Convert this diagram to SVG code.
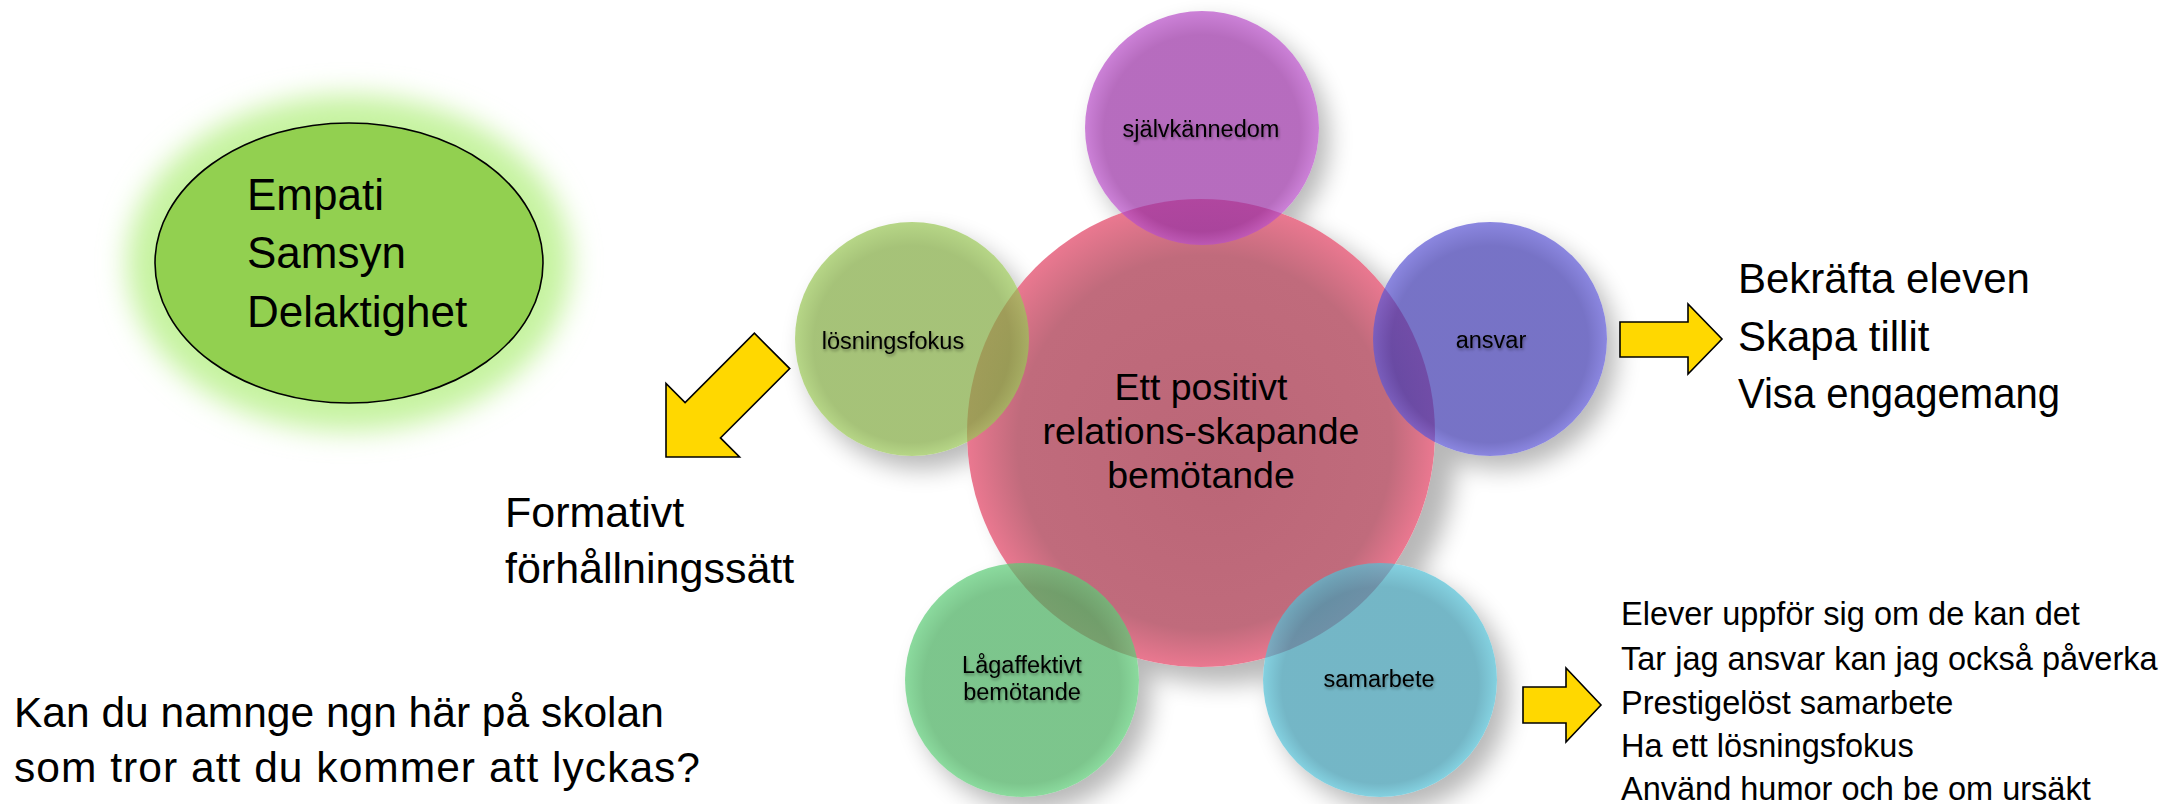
<svg xmlns="http://www.w3.org/2000/svg" width="2166" height="804" viewBox="0 0 2166 804">
<defs>
<style>
text{font-family:"Liberation Sans",Arial,sans-serif;fill:#000}
.big{font-size:44px}
.mid{font-size:42px}
.lst{font-size:32.5px}
.lbl{font-size:23.5px;text-anchor:middle}
.ctr{font-size:37.5px;text-anchor:middle}
.arrow{fill:#ffd800;stroke:#000;stroke-width:1.6;stroke-linejoin:miter}
.sat{opacity:0.72}
</style>
<filter id="glow" x="-30%" y="-30%" width="160%" height="160%"><feGaussianBlur stdDeviation="14"/></filter>
<filter id="shblur" x="-30%" y="-30%" width="160%" height="160%"><feGaussianBlur stdDeviation="12"/></filter>
<filter id="tsh" x="-10%" y="-30%" width="120%" height="170%"><feDropShadow dx="1" dy="2" stdDeviation="1.5" flood-color="#000" flood-opacity="0.35"/></filter>
<mask id="outside" maskUnits="userSpaceOnUse" x="0" y="0" width="2166" height="804">
<rect width="2166" height="804" fill="#fff"/>
<circle cx="1201" cy="433" r="234" fill="#000"/>
<circle cx="1202" cy="128" r="117" fill="#000"/>
<circle cx="1490" cy="339" r="117" fill="#000"/>
<circle cx="912" cy="339" r="117" fill="#000"/>
<circle cx="1022" cy="680" r="117" fill="#000"/>
<circle cx="1380" cy="680" r="117" fill="#000"/>
</mask>
<radialGradient id="gPink" cx="50%" cy="50%" r="50%" fx="54%" fy="60%">
<stop offset="0" stop-color="#bb6677"/><stop offset="0.8" stop-color="#c06b7c"/><stop offset="1" stop-color="#ea7890"/>
</radialGradient>
<radialGradient id="gPurple" cx="50%" cy="50%" r="50%" fx="50%" fy="64%">
<stop offset="0" stop-color="#9a33a5"/><stop offset="0.84" stop-color="#9a33a5"/><stop offset="1" stop-color="#b850c8"/>
</radialGradient>
<radialGradient id="gBlue" cx="50%" cy="50%" r="50%" fx="50%" fy="64%">
<stop offset="0" stop-color="#423cb0"/><stop offset="0.84" stop-color="#423cb0"/><stop offset="1" stop-color="#5e58d4"/>
</radialGradient>
<radialGradient id="gOlive" cx="50%" cy="50%" r="50%" fx="50%" fy="64%">
<stop offset="0" stop-color="#83ab44"/><stop offset="0.84" stop-color="#83ab44"/><stop offset="1" stop-color="#9ac658"/>
</radialGradient>
<radialGradient id="gGreen" cx="50%" cy="50%" r="50%" fx="50%" fy="64%">
<stop offset="0" stop-color="#4aaf60"/><stop offset="0.84" stop-color="#4aaf60"/><stop offset="1" stop-color="#5ecc78"/>
</radialGradient>
<radialGradient id="gTeal" cx="50%" cy="50%" r="50%" fx="50%" fy="64%">
<stop offset="0" stop-color="#3e9ab0"/><stop offset="0.84" stop-color="#3e9ab0"/><stop offset="1" stop-color="#54bfd4"/>
</radialGradient>
</defs>
<rect width="2166" height="804" fill="#fff"/>

<g id="values">
<ellipse cx="349" cy="263" rx="222" ry="168" fill="#c6f3a0" filter="url(#glow)"/>
<ellipse cx="349" cy="263" rx="194" ry="140" fill="#92d050" stroke="#000" stroke-width="1.6"/>
<text class="big" x="247" y="210">Empati</text>
<text class="big" x="247" y="268">Samsyn</text>
<text class="big" x="247" y="327">Delaktighet</text>
</g>

<g id="shadows" mask="url(#outside)">
<g filter="url(#shblur)" fill="#000" opacity="0.28">
<circle cx="1222" cy="450" r="234"/>
<circle cx="1500" cy="352" r="117"/>
<circle cx="1392" cy="694" r="117"/>
<circle cx="1034" cy="694" r="117"/>
<circle cx="922" cy="352" r="117"/>
<circle cx="1212" cy="140" r="117"/>
</g>
</g>

<g id="center">
<circle cx="1201" cy="433" r="234" fill="url(#gPink)"/>
<text class="ctr" x="1201" y="400">Ett positivt</text>
<text class="ctr" x="1201" y="444">relations-skapande</text>
<text class="ctr" x="1201" y="488">bemötande</text>
</g>

<g id="sjalvkannedom">
<circle class="sat" cx="1202" cy="128" r="117" fill="url(#gPurple)"/>
<text class="lbl" x="1201" y="137" filter="url(#tsh)">självkännedom</text>
</g>
<g id="ansvar">
<circle class="sat" cx="1490" cy="339" r="117" fill="url(#gBlue)"/>
<text class="lbl" x="1491" y="348" filter="url(#tsh)">ansvar</text>
</g>
<g id="losningsfokus">
<circle class="sat" cx="912" cy="339" r="117" fill="url(#gOlive)"/>
<text class="lbl" x="893" y="349" filter="url(#tsh)">lösningsfokus</text>
</g>
<g id="lagaffektivt">
<circle class="sat" cx="1022" cy="680" r="117" fill="url(#gGreen)"/>
<text class="lbl" x="1022" y="673" filter="url(#tsh)">Lågaffektivt</text>
<text class="lbl" x="1022" y="700" filter="url(#tsh)">bemötande</text>
</g>
<g id="samarbete">
<circle class="sat" cx="1380" cy="680" r="117" fill="url(#gTeal)"/>
<text class="lbl" x="1379" y="687" filter="url(#tsh)">samarbete</text>
</g>

<g id="connectors">
<path class="arrow" d="M1620,322 H1688 V304 L1722,339 L1688,374 V357 H1620 Z"/>
<path class="arrow" d="M1523,687 H1566 V668 L1601,705 L1566,742 V723 H1523 Z"/>
<path class="arrow" transform="translate(666,457) rotate(135)" d="M0,0 L-52,52 V25 H-150 V-25 H-52 V-52 Z"/>
</g>

<g id="bekrafta">
<text class="mid" x="1738" y="293">Bekräfta eleven</text>
<text class="mid" x="1738" y="351">Skapa tillit</text>
<text class="mid" x="1738" y="408" textLength="322" lengthAdjust="spacingAndGlyphs">Visa engagemang</text>
</g>

<g id="formativt">
<text class="mid" x="505" y="527" style="font-size:43px">Formativt</text>
<text class="mid" x="505" y="583" style="font-size:43px">förhållningssätt</text>
</g>

<g id="fraga">
<text class="mid" x="14" y="727" style="font-size:42.5px">Kan du namnge ngn här på skolan</text>
<text class="mid" x="14" y="782" style="font-size:42.5px" textLength="686" lengthAdjust="spacing">som tror att du kommer att lyckas?</text>
</g>

<g id="lista">
<text class="lst" x="1621" y="625">Elever uppför sig om de kan det</text>
<text class="lst" x="1621" y="670">Tar jag ansvar kan jag också påverka</text>
<text class="lst" x="1621" y="714">Prestigelöst samarbete</text>
<text class="lst" x="1621" y="757">Ha ett lösningsfokus</text>
<text class="lst" x="1621" y="800">Använd humor och be om ursäkt</text>
</g>
</svg>
